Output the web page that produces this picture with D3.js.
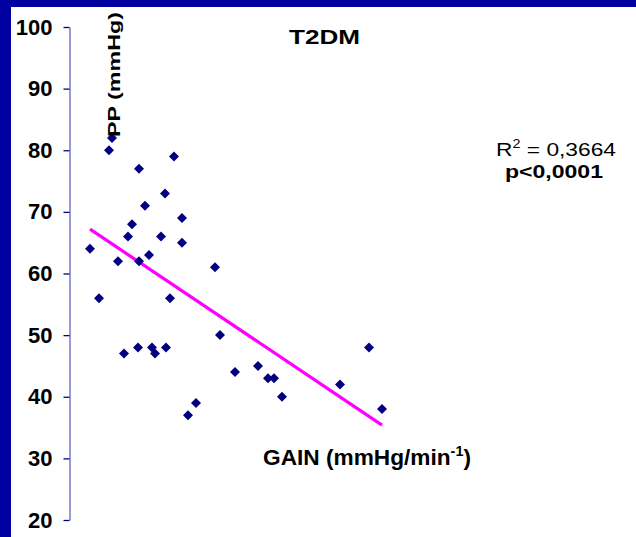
<!DOCTYPE html>
<html>
<head>
<meta charset="utf-8">
<script src="https://cdn.jsdelivr.net/npm/d3@7"></script>
<style>
  html, body { margin: 0; padding: 0; background: #fff; }
  svg { display: block; }
  text { font-family: Arial, "Liberation Sans", sans-serif; }
</style>
</head>
<body>
<div id="chart"></div>
<script>
// ---- data ----
const gain = [0.20, 0.29, 0.39, 0.42, 0.48, 0.54, 0.58, 0.62, 0.69, 0.68, 0.69, 0.75, 0.79, 0.82, 0.85, 0.91, 0.95, 0.96, 1.00, 1.04, 1.12, 1.12, 1.18, 1.26, 1.45, 1.50, 1.65, 1.88, 1.98, 2.04, 2.12, 2.70, 2.99, 3.12];
const pp   = [64, 56, 80, 82, 62, 47, 66, 68, 77, 48, 62, 71, 63, 48, 47, 66, 73, 48, 56, 79, 69, 65, 37, 39, 61, 50, 44, 45, 43, 43, 40, 42, 48, 38];
const trendX = [0.20, 3.12];
const trendY = [67.2, 35.4];
const yTicks = [20, 30, 40, 50, 60, 70, 80, 90, 100];
const title = "T2DM";
const yLabel = "PP (mmHg)";
const r2Text = "0,3664";
const pText = "p<0,0001";

// ---- layout ----
const W = 636, H = 537;
const svg = d3.select("#chart").append("svg").attr("width", W).attr("height", H);

svg.append("rect").attr("x", 0).attr("y", 0).attr("width", W).attr("height", H).attr("fill", "#fff");
// blue frame (top & left)
svg.append("rect").attr("x", 0).attr("y", 0).attr("width", W).attr("height", 7).attr("fill", "#0000a0");
svg.append("rect").attr("x", 0).attr("y", 0).attr("width", 11).attr("height", H).attr("fill", "#0000a0");

const x = d3.scaleLinear().domain([0, 5]).range([70, 570]);
const y = d3.scaleLinear().domain([20, 100]).range([520, 27]);

// y axis
const yAxis = svg.append("g")
  .attr("transform", "translate(69.5,0)")
  .call(d3.axisLeft(y).tickValues(yTicks).tickSize(6).tickSizeOuter(0).tickPadding(11));
yAxis.select(".domain").attr("stroke", "#8080c8").attr("stroke-width", 1.6);
yAxis.selectAll(".tick line").attr("stroke", "#000080").attr("stroke-width", 1.3);
yAxis.selectAll(".tick text")
  .attr("fill", "#000")
  .attr("font-size", 22)
  .attr("font-weight", "bold")
  .attr("font-family", "Arial, 'Liberation Sans', sans-serif");

// regression line
svg.append("line")
  .attr("x1", x(trendX[0])).attr("y1", y(trendY[0]))
  .attr("x2", x(trendX[1])).attr("y2", y(trendY[1]))
  .attr("stroke", "#ff00ff").attr("stroke-width", 3.2);

// points
const sym = d3.symbol().type(d3.symbolSquare).size(50);
svg.append("g").selectAll("path")
  .data(gain.map((g, i) => [g, pp[i]]))
  .join("path")
  .attr("d", sym)
  .attr("transform", d => `translate(${x(d[0])},${y(d[1])}) rotate(45)`)
  .attr("fill", "#000080");

// title
svg.append("text")
  .attr("x", 289).attr("y", 44)
  .attr("font-size", 21).attr("font-weight", "bold")
  .attr("textLength", 71).attr("lengthAdjust", "spacingAndGlyphs")
  .text(title);

// y label (rotated)
svg.append("text")
  .attr("transform", "translate(120,137) rotate(-90)")
  .attr("font-size", 17).attr("font-weight", "bold")
  .attr("textLength", 125).attr("lengthAdjust", "spacingAndGlyphs")
  .text(yLabel);

// x label
const xl = svg.append("text")
  .attr("x", 263).attr("y", 465)
  .attr("font-size", 22).attr("font-weight", "bold")
  .attr("textLength", 208).attr("lengthAdjust", "spacingAndGlyphs");
xl.append("tspan").text("GAIN (mmHg/min");
xl.append("tspan").attr("dy", -9).attr("font-size", 14).text("-1");
xl.append("tspan").attr("dy", 9).text(")");

// R² annotation
const r2 = svg.append("text")
  .attr("x", 496).attr("y", 156)
  .attr("font-size", 19)
  .attr("textLength", 120).attr("lengthAdjust", "spacingAndGlyphs");
r2.append("tspan").text("R");
r2.append("tspan").attr("dy", -8).attr("font-size", 12).text("2");
r2.append("tspan").attr("dy", 8).text(" = " + r2Text);

svg.append("text")
  .attr("x", 505).attr("y", 178)
  .attr("font-size", 19).attr("font-weight", "bold")
  .attr("textLength", 98).attr("lengthAdjust", "spacingAndGlyphs")
  .text(pText);
</script>
</body>
</html>
